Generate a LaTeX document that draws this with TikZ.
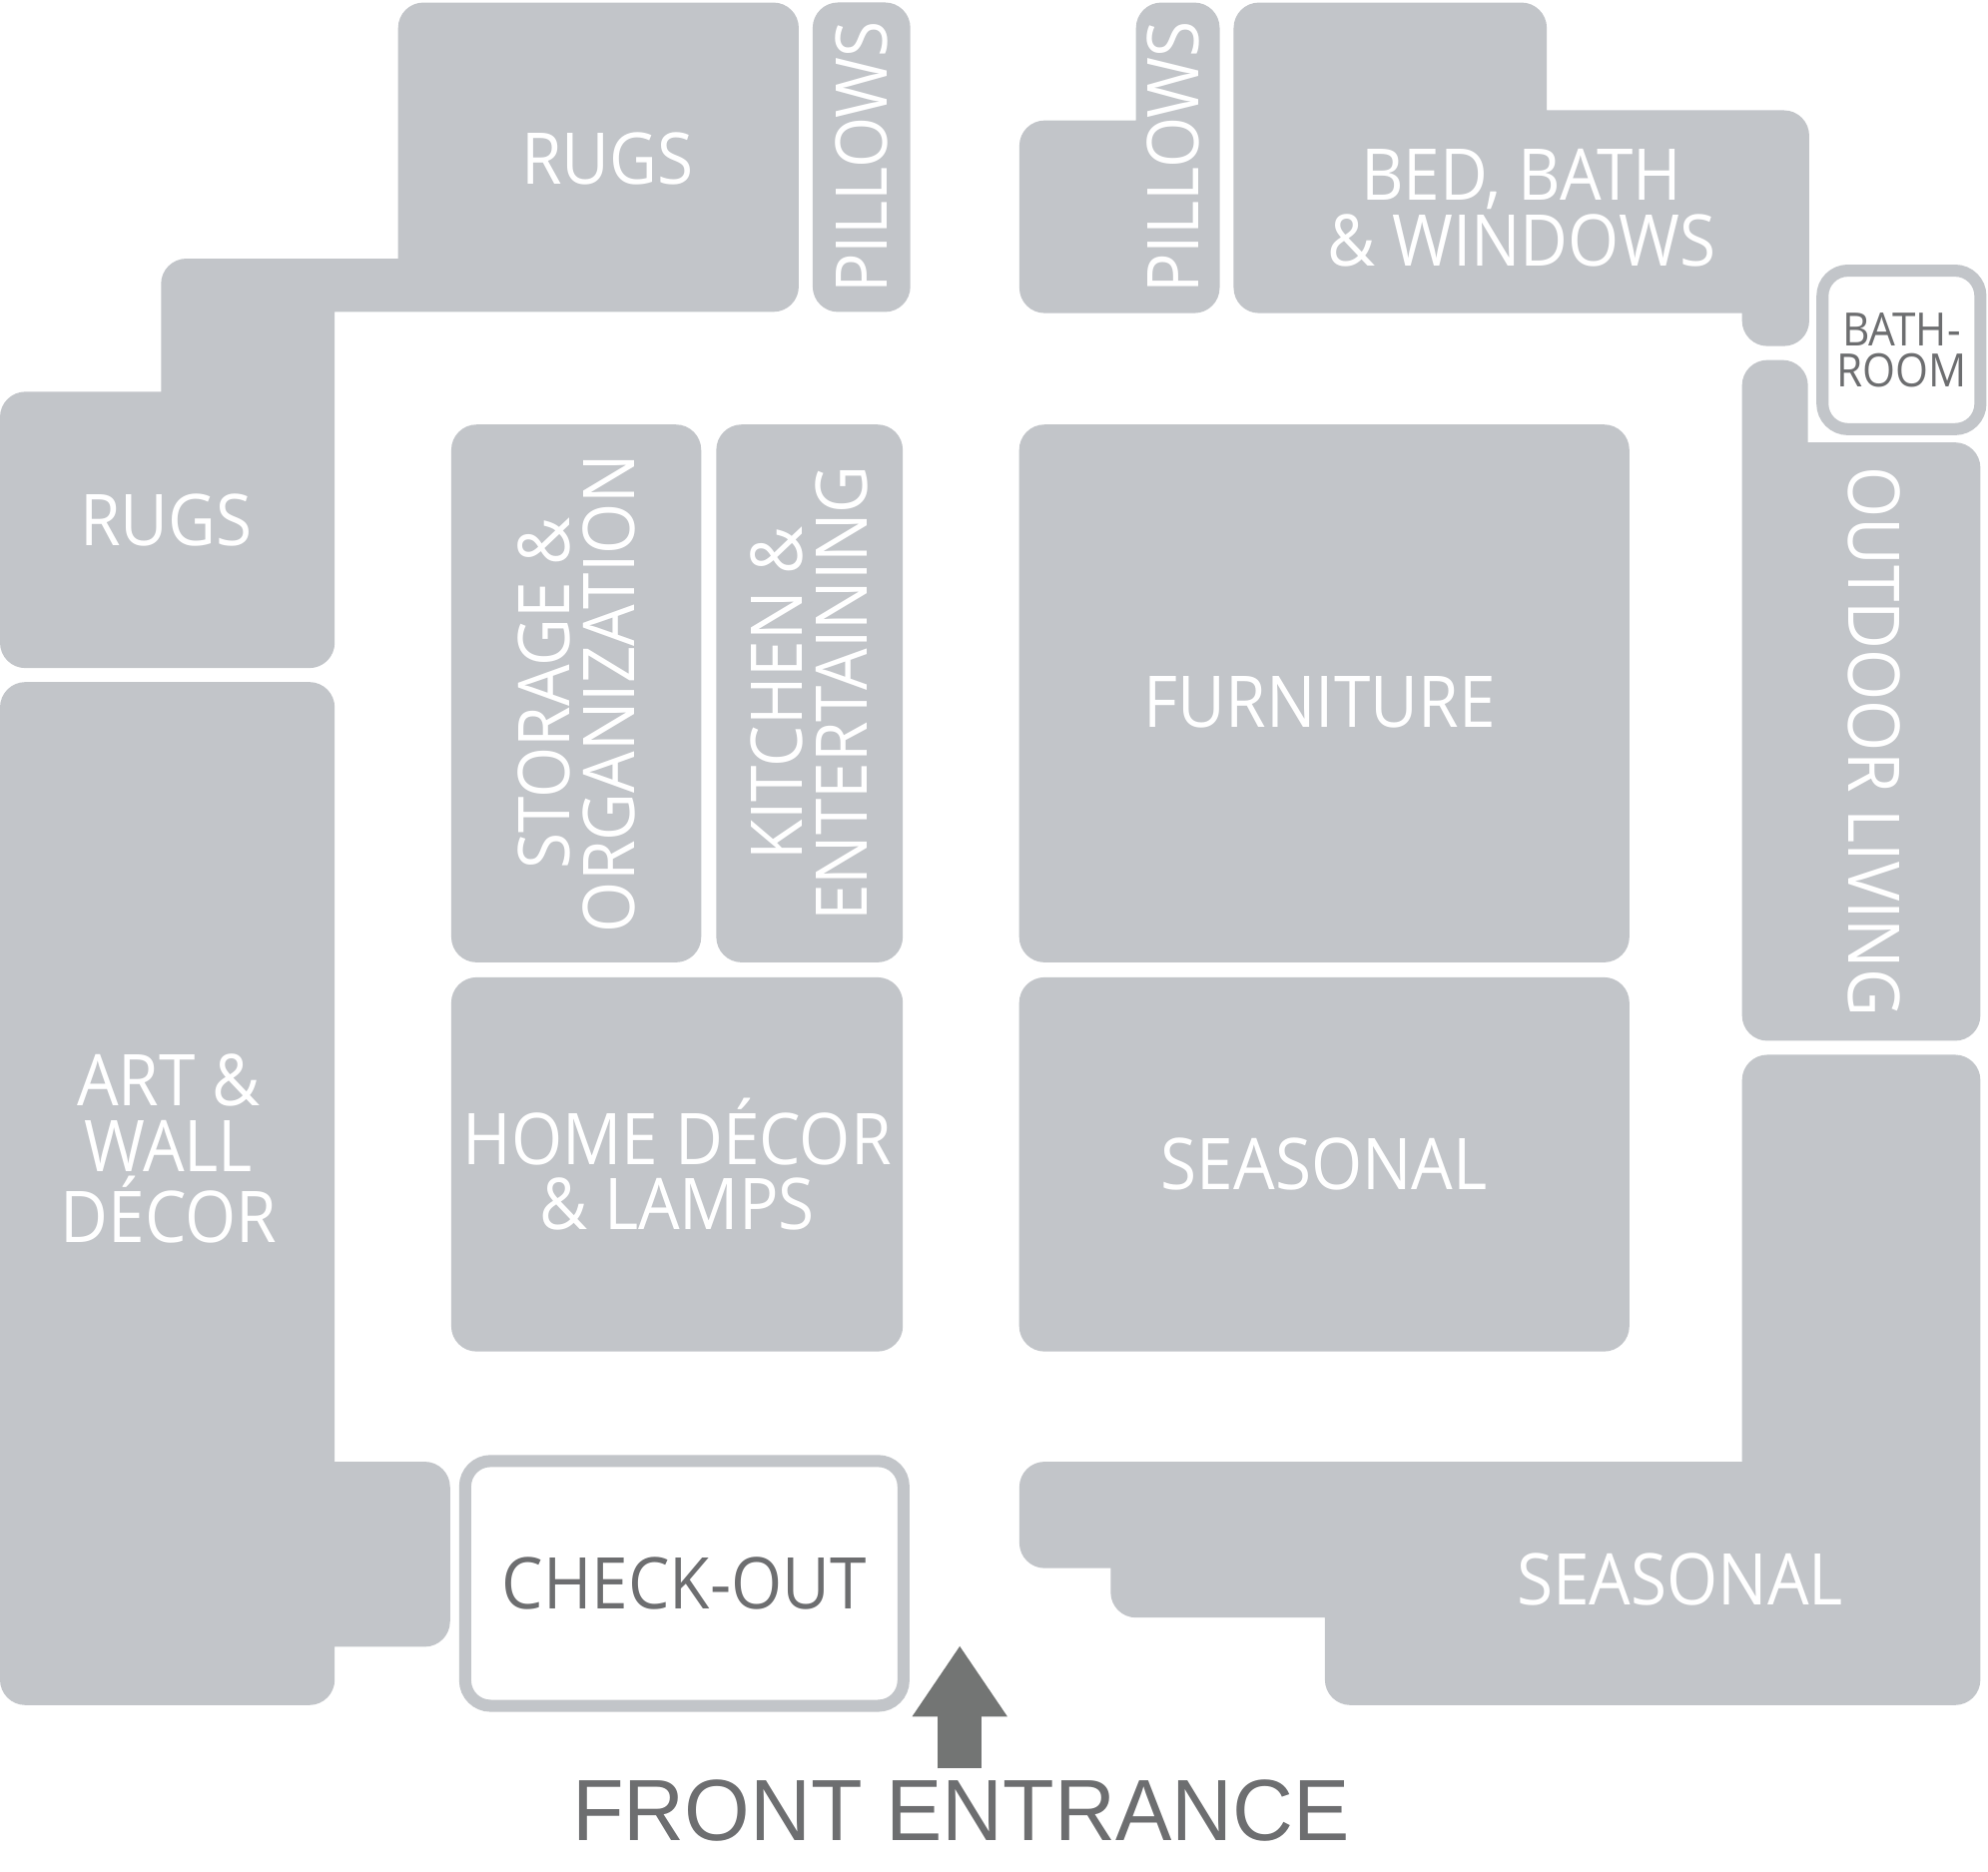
\documentclass[tikz,border=0pt]{standalone}
\usepackage{xcolor}
\usepackage{fontspec}
\setmainfont{Open Sans}[FakeStretch=0.92]
\newfontfamily\entrancefont{Liberation Sans}[FakeStretch=0.97]
\usepackage{tikz}
\usetikzlibrary{arrows.meta}

\definecolor{zonegray}{HTML}{C2C5C9}
\definecolor{darkink}{HTML}{6D6E70}
\definecolor{arrowgray}{HTML}{737574}

\begin{document}
\begin{tikzpicture}[x=0.01cm,y=-0.01cm,
  shelf/.style={fill=zonegray, rounded corners=2mm},
  zone/.style={shelf, inner sep=0pt, text=white, align=center,
    font=\fontsize{16}{14.6}\selectfont},
  lbl/.style={inner sep=0pt, text=white, align=center,
    font=\fontsize{16}{14.6}\selectfont},
  desk/.style={fill=white, draw=zonegray, line width=0.95mm, rounded corners=2mm,
    inner sep=0pt, text=darkink, align=center},
  entry/.style={draw=arrowgray, line width=3.5mm,
    -{Triangle[width=7.1mm,length=5.6mm]}}]

\useasboundingbox (0,0) rectangle (1568,1476);

% Define walls
\fill[shelf] (0,309) [sharp corners] -- (127,309) [rounded corners=2mm] -- (127,204) [sharp corners] -- (314,204) [rounded corners=2mm] -- (314,2) -- (630,2) -- (630,246) [sharp corners] -- (264,246) [rounded corners=2mm] -- (264,527) -- (0,527) -- cycle;
\fill[shelf] (804,95) [sharp corners] -- (896,95) [rounded corners=2mm] -- (896,2) -- (962,2) -- (962,247) -- (804,247) -- cycle;
\fill[shelf] (973,2) -- (1220,2) [sharp corners] -- (1220,87) [rounded corners=2mm] -- (1427,87) -- (1427,273) -- (1374,273) [sharp corners] -- (1374,247) [rounded corners=2mm] -- (973,247) -- cycle;
\fill[shelf] (1374,284) -- (1426,284) [sharp corners] -- (1426,349) [rounded corners=2mm] -- (1562,349) -- (1562,821) -- (1374,821) -- cycle;
\fill[shelf] (0,538) -- (264,538) [sharp corners] -- (264,1153) [rounded corners=2mm] -- (355,1153) -- (355,1299) [sharp corners] -- (264,1299) [rounded corners=2mm] -- (264,1345) -- (0,1345) -- cycle;
\fill[shelf] (804,1153) [sharp corners] -- (1374,1153) [rounded corners=2mm] -- (1374,832) -- (1562,832) -- (1562,1345) -- (1045,1345) [sharp corners] -- (1045,1276) [rounded corners=2mm] -- (876,1276) [sharp corners] -- (876,1237) [rounded corners=2mm] -- (804,1237) -- cycle;

% Wall labels
\node[lbl] (rugsT) at (479,125) {RUGS};
\node[lbl] (rugsL) at (131,410) {RUGS};
\node[lbl, rotate=90] (pilR) at (925,124) {PILLOWS};
\node[lbl] (bed) at (1200,164) {BED, BATH\\\& WINDOWS};
\node[lbl, rotate=-90] (outd) at (1478,585) {OUTDOOR LIVING};
\node[lbl] (art) at (133,906) {ART \&\\WALL\\DÉCOR};
\node[lbl] (seasB) at (1325,1246) {SEASONAL};

% Floor zones
\node[zone, rotate=90, minimum width=2.44cm, minimum height=0.77cm] (pilL) at (679.5,124) {PILLOWS};
\node[zone, rotate=90, minimum width=4.24cm, minimum height=1.97cm] (stor) at (454.5,547) {STORAGE \&\\ORGANIZATION};
\node[zone, rotate=90, minimum width=4.24cm, minimum height=1.47cm] (kitch) at (638.5,547) {KITCHEN \&\\ENTERTAINING};
\node[zone, minimum width=4.81cm, minimum height=4.24cm] (furn) at (1044.5,547) {};
\node[lbl] (furnL) at (1041,554) {FURNITURE};
\node[zone, minimum width=3.56cm, minimum height=2.95cm] (home) at (534,918.5) {HOME DÉCOR\\\& LAMPS};
\node[zone, minimum width=4.81cm, minimum height=2.95cm] (seas) at (1044.5,918.5) {SEASONAL};

% Service boxes
\node[desk, minimum width=3.455cm, minimum height=1.93cm, font=\fontsize{16}{14.6}\selectfont] (chk) at (539.75,1249) {CHECK-OUT};
\node[desk, minimum width=1.245cm, minimum height=1.25cm, font=\fontsize{10.3}{9.2}\selectfont] (bath) at (1499.75,276) {BATH-\\ROOM};

% Entrance
\node[inner sep=0pt, text=darkink, font=\entrancefont\fontsize{19.5}{20}\selectfont] (entr) at (758,1428) {FRONT ENTRANCE};
\coordinate (arrbase) at (757,1395);
\coordinate (arrtip) at (757,1298);
\draw[entry] (arrbase) -- (arrtip);
\end{tikzpicture}
\end{document}
